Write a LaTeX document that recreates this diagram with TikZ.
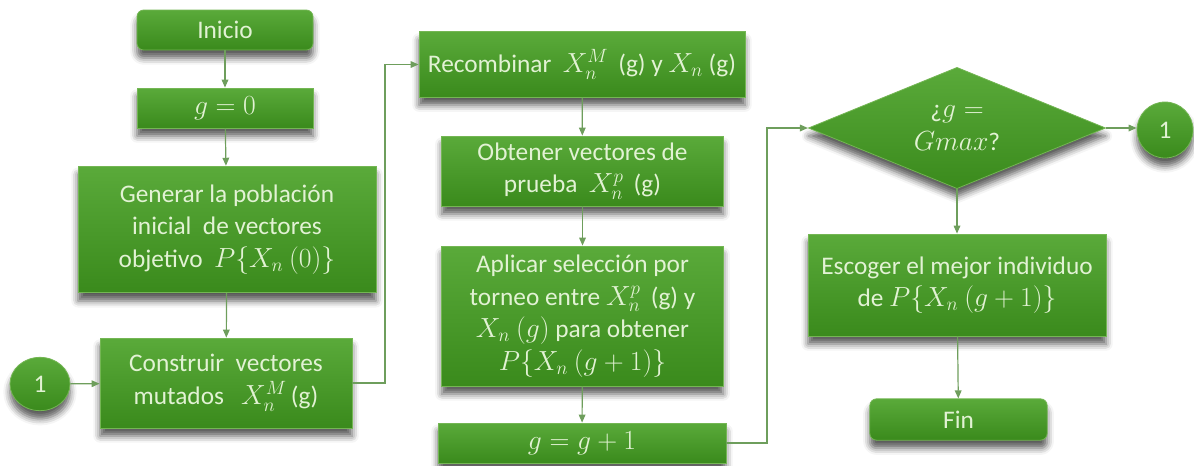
\documentclass[tikz,border=0pt]{standalone}
\usepackage{fontspec}
\setmainfont{Carlito}
\DeclareMathSizes{19}{22}{15}{11}
\usetikzlibrary{shapes.geometric,arrows.meta,shadows.blur}
\definecolor{boxtop}{HTML}{5AAA3A}
\definecolor{boxbot}{HTML}{3A8A1C}
\definecolor{boxedge}{HTML}{74B654}
\definecolor{boxtext}{HTML}{E2F2D4}
\definecolor{linkcol}{HTML}{6E9E5C}
\tikzset{
  shade/.style={blur shadow={shadow xshift=0pt, shadow yshift=-6pt, shadow blur radius=5pt, shadow opacity=65}},
  flowbox/.style={rectangle, shade, draw=boxedge, line width=0.6pt,
    top color=boxtop, bottom color=boxbot, text=boxtext, align=center,
    inner sep=2pt, font=\fontsize{19}{24.5}\selectfont},
  termbox/.style={flowbox, rounded corners=5pt},
  decision/.style={flowbox, diamond, aspect=2.45, inner sep=0pt},
  connector/.style={flowbox, ellipse, inner sep=0pt},
  link/.style={draw=linkcol, line width=0.9pt, -{Triangle[length=6pt,width=5pt]}}
}
\begin{document}
\begin{tikzpicture}[x=0.75pt,y=-0.75pt]
\useasboundingbox (0,0) rectangle (1194,465);

% first column
\node[termbox, minimum width=132pt, minimum height=30pt] (inicio) at (225,30) {Inicio};
\node[flowbox, minimum width=132pt, minimum height=30pt] (g0) at (225,108) {$g=0$};
\node[flowbox, minimum width=223.5pt, minimum height=95pt] (gen) at (227,229.5)
  {Generar la población\\ inicial\ \ de vectores\\ objetivo\ \ $P\big\{X_n\ (0)\big\}$};
\node[flowbox, minimum width=189pt, minimum height=67.5pt] (cons) at (226,383)
  {Construir\ \ vectores\\ mutados\ \ \ $X_n^M$\,(g)};
\node[connector, minimum width=45pt, minimum height=40pt] (c1) at (40,384) {1};

% second column
\node[flowbox, minimum width=244.5pt, minimum height=49pt] (rec) at (582,64.5)
  {Recombinar\ \ $X_n^M$\ \,(g) y $X_n$\ (g)};
\node[flowbox, minimum width=211pt, minimum height=52.5pt] (obt) at (582.5,171)
  {Obtener vectores de\\ prueba\ \ $X_n^p$\ \,(g)};
\node[flowbox, minimum width=211pt, minimum height=105pt] (apl) at (582.5,316)
  {Aplicar selección por\\ torneo entre $X_n^p$\ \,(g) y\\ $X_n\ (g)$ para obtener\\ $P\big\{X_n\ (g+1)\big\}$};
\node[flowbox, minimum width=216pt, minimum height=30pt] (ginc) at (582,443) {$g=g+1$};

% third column
\node[decision, minimum width=223pt, minimum height=91pt] (dia) at (957,128)
  {¿$g=$\\ $Gmax$?};
\node[connector, minimum width=42pt, minimum height=42pt] (c2) at (1165,130) {1};
\node[flowbox, minimum width=223.5pt, minimum height=76.5pt] (esc) at (957,285)
  {Escoger el mejor individuo\\ de $P\big\{X_n\ (g+1)\big\}$};
\node[termbox, minimum width=133pt, minimum height=31pt] (fin) at (958.5,419.5) {Fin};

% bends of the long links
\coordinate (k1) at (385,64.5);
\coordinate (k2) at (767,128);

% links
\draw[link] (inicio) -- (g0);
\draw[link] (g0) -- (gen);
\draw[link] (gen) -- (cons);
\draw[link] (c1) -- (cons);
\draw[link] (cons.east) -| (k1) -- (rec.west);
\draw[link] (rec) -- (obt);
\draw[link] (obt) -- (apl);
\draw[link] (apl) -- (ginc);
\draw[link] (ginc.east) -| (k2) -- (dia.west);
\draw[link] (dia.east) -- (c2.west |- dia.east);
\draw[link] (dia.south) -- (esc.north);
\draw[link] (esc) -- (fin);
\end{tikzpicture}
\end{document}
